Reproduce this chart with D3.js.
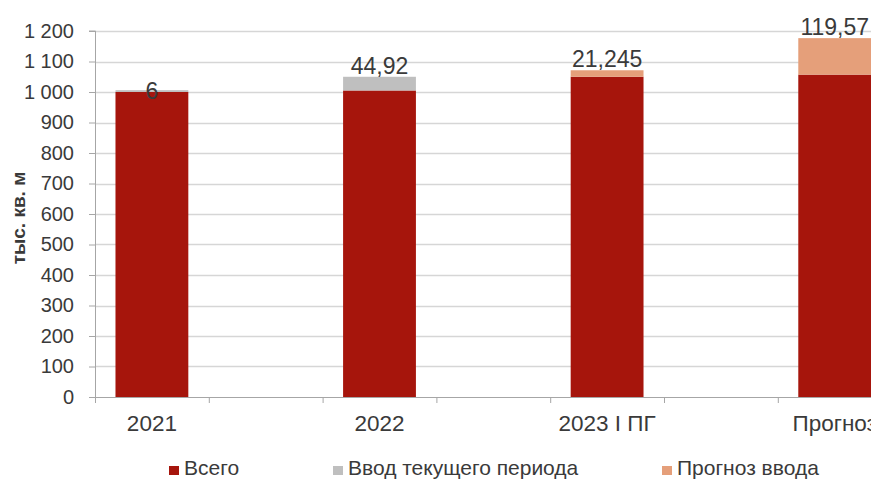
<!DOCTYPE html>
<html lang="ru">
<head>
<meta charset="utf-8">
<script src="https://cdn.jsdelivr.net/npm/d3@7"></script>
<style>
  html, body { margin: 0; padding: 0; background: #fff; overflow: hidden; }
  svg { display: block; font-family: "Liberation Sans", Arial, sans-serif; }
</style>
</head>
<body>
<svg id="chart" width="871" height="479"></svg>
<script>
// Категории оси X (с пустыми промежутками между столбцами)
const categories = ["2021", "", "2022", "", "2023 I ПГ", "", "Прогноз"];

// Ряды данных, тыс. кв. м (null — пустой промежуток)
const totalValues    = [1000, null, 1005, null, 1050, null, 1057];   // Всего
const currentInput   = [6,    null, 44.92, null, 0,   null, 0];      // Ввод текущего периода
const forecastInput  = [0,    null, 0,     null, 21.245, null, 119.57]; // Прогноз ввода

const seriesNames = ["Всего", "Ввод текущего периода", "Прогноз ввода"];
const yTicks = [0, 100, 200, 300, 400, 500, 600, 700, 800, 900, 1000, 1100, 1200];
const yTitle = "тыс. кв. м";

const colors = ["#a6150c", "#bfbfbf", "#e59f7a"];
const textColor = "#3a3a3a";

const svg = d3.select("#chart");
const plot = { left: 95, top: 31, bottom: 397, right: 95 + 7 * 113.8 };

const ruLocale = d3.formatLocale({ decimal: ",", thousands: "\u00a0", grouping: [3], currency: ["", ""] });
const fmtTick = ruLocale.format(",d");
const fmtLabel = v => String(v).replace(".", ",");

const slots = categories.map((c, i) => i);
const x = d3.scaleBand().domain(slots).range([plot.left, plot.right]).paddingInner(0).paddingOuter(0);
const y = d3.scaleLinear().domain([0, 1200]).range([plot.bottom, plot.top]);
const barW = x.bandwidth() * 0.64;

// Сетка
svg.append("g")
  .selectAll("line")
  .data(yTicks.filter(t => t > 0))
  .join("line")
  .attr("x1", plot.left).attr("x2", 871)
  .attr("y1", d => Math.round(y(d)) + 0.5).attr("y2", d => Math.round(y(d)) + 0.5)
  .attr("stroke", "#d6d6d6").attr("stroke-width", 1.5);

// Стек рядов
const rows = slots.filter(i => totalValues[i] !== null).map(i => ({
  i, vals: [totalValues[i], currentInput[i], forecastInput[i]]
}));
const segs = [];
rows.forEach(r => {
  let base = 0;
  r.vals.forEach((v, s) => {
    segs.push({ i: r.i, s, y0: base, y1: base + v, v });
    base += v;
  });
});

svg.append("g")
  .selectAll("rect")
  .data(segs.filter(d => d.v > 0))
  .join("rect")
  .attr("x", d => x(d.i) + (x.bandwidth() - barW) / 2)
  .attr("width", barW)
  .attr("y", d => y(d.y1))
  .attr("height", d => y(d.y0) - y(d.y1))
  .attr("fill", d => colors[d.s]);

// Подписи значений приращений
const labelSegs = segs.filter(d => d.s > 0 && d.v > 0);
svg.append("g")
  .selectAll("text")
  .data(labelSegs)
  .join("text")
  .attr("x", d => x(d.i) + x.bandwidth() / 2)
  .attr("y", d => d.v < 10 ? y((d.y0 + d.y1) / 2) : y(d.y1) - 3)
  .attr("dy", d => d.v < 10 ? "0.36em" : 0)
  .attr("text-anchor", "middle")
  .attr("font-size", 23)
  .attr("fill", textColor)
  .text(d => fmtLabel(d.v));

// Ось Y
const yAxis = d3.axisLeft(y).tickValues(yTicks).tickSize(6).tickPadding(15).tickFormat(fmtTick);
const gy = svg.append("g").attr("transform", `translate(${plot.left},0)`).call(yAxis);
gy.select(".domain").attr("stroke", "#a6a6a6").attr("d", `M-6,${plot.top}H0.5V${plot.bottom}`);
gy.selectAll(".tick line").attr("stroke", "#a6a6a6");
gy.selectAll(".tick text").attr("font-size", 20).attr("fill", textColor)
  .attr("font-family", "Liberation Sans, Arial, sans-serif");

// Ось X
const xAxis = d3.axisBottom(x).tickSize(0).tickPadding(18).tickFormat(i => categories[i]);
const gx = svg.append("g").attr("transform", `translate(0,${plot.bottom})`).call(xAxis);
gx.select(".domain").attr("stroke", "#a6a6a6").attr("d", `M${plot.left},0.5H${plot.right}`);
gx.selectAll(".tick text").attr("font-size", 22.5).attr("fill", textColor)
  .attr("font-family", "Liberation Sans, Arial, sans-serif");
// Деления на границах категорий
gx.append("g").selectAll("line")
  .data(d3.range(categories.length + 1))
  .join("line")
  .attr("x1", k => plot.left + k * x.step() + 0.5).attr("x2", k => plot.left + k * x.step() + 0.5)
  .attr("y1", 0).attr("y2", 6)
  .attr("stroke", "#a6a6a6");

// Заголовок оси Y
svg.append("text")
  .attr("transform", `translate(25,${(plot.top + plot.bottom) / 2 + 4}) rotate(-90)`)
  .attr("text-anchor", "middle")
  .attr("font-size", 19)
  .attr("font-weight", "bold")
  .attr("fill", textColor)
  .text(yTitle);

// Легенда
const legendX = [169, 333, 662];
const lg = svg.append("g").selectAll("g")
  .data(seriesNames)
  .join("g")
  .attr("transform", (d, k) => `translate(${legendX[k]},466)`);
lg.append("rect").attr("width", 10).attr("height", 9).attr("fill", (d, k) => colors[k]);
lg.append("text")
  .attr("x", 15).attr("y", 9)
  .attr("font-size", 21)
  .attr("fill", textColor)
  .text(d => d);
</script>
</body>
</html>
